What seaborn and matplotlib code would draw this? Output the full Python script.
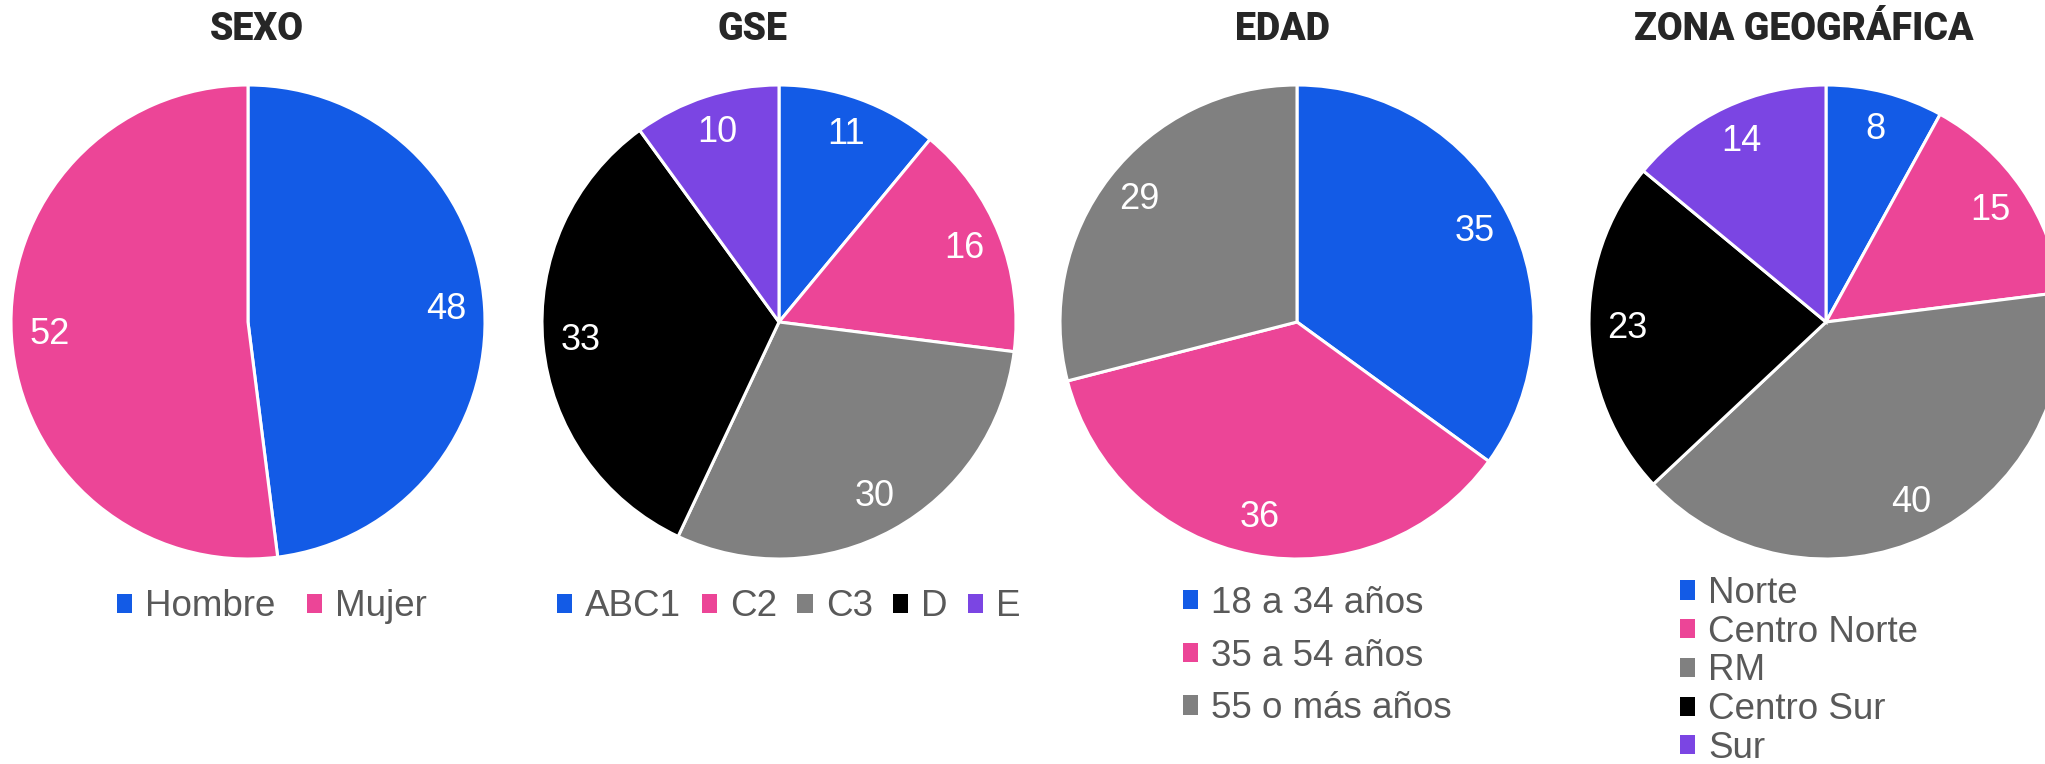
import seaborn as sns
import matplotlib.pyplot as plt
import matplotlib.patches as mpatches

# data
sexo_labels = ["Hombre", "Mujer"]
sexo_values = [48, 52]
gse_labels = ["ABC1", "C2", "C3", "D", "E"]
gse_values = [11, 16, 30, 33, 10]
edad_labels = ["18 a 34 años", "35 a 54 años", "55 o más años"]
edad_values = [35, 36, 29]
zona_labels = ["Norte", "Centro Norte", "RM", "Centro Sur", "Sur"]
zona_values = [8, 15, 40, 23, 14]

palette = sns.color_palette(["#135BE6", "#EC4597", "#808080", "#000000", "#7B45E3"])

sns.set_theme(style="white")
plt.rcParams["font.family"] = ["Liberation Sans", "DejaVu Sans"]

W, H = 2045, 764
fig = plt.figure(figsize=(W / 100, H / 100), dpi=100)
R = 237
CY = 322


def draw_pie(cx, values, labels, title, title_x, leg_x, leg_y, ncol, labelspacing, colspacing=0.85):
    ax = fig.add_axes([(cx - R) / W, 1 - (CY + R) / H, 2 * R / W, 2 * R / H])
    total = sum(values)
    cols = palette[:len(values)]
    wedges, _, autotexts = ax.pie(
        values, colors=cols, startangle=90, counterclock=False,
        autopct=lambda p: f"{p * total / 100:.0f}", pctdistance=0.84,
        wedgeprops=dict(edgecolor="white", linewidth=2.2),
        textprops=dict(color="white", fontsize=26))
    for w in wedges:
        w.set_clip_on(False)
    ax.set_xlim(-1, 1)
    ax.set_ylim(-1, 1)
    ax.set_aspect("equal")
    ax.axis("off")

    fig.text(title_x / W, 1 - 29 / H, title, ha="center", va="center",
             fontsize=27, fontweight="black", family=["Roboto", "DejaVu Sans"])

    handles = [mpatches.Patch(facecolor=c, edgecolor="none") for c in cols]
    ax.legend(handles, labels, loc="center left",
              bbox_to_anchor=(leg_x / W, 1 - leg_y / H), bbox_transform=fig.transFigure,
              ncol=ncol, frameon=False, borderpad=0, borderaxespad=0,
              handlelength=0.42, handleheight=0.42, handletextpad=0.35,
              columnspacing=colspacing, labelspacing=labelspacing,
              prop=dict(size=26.5), labelcolor="#595959")


draw_pie(248, sexo_values, sexo_labels, "SEXO", 257, 117, 607, 2, 0.3)
draw_pie(779, gse_values, gse_labels, "GSE", 752, 557, 607, 5, 0.3, colspacing=0.55)
draw_pie(1297, edad_values, edad_labels, "EDAD", 1282, 1183, 656, 1, 0.48)
draw_pie(1826, zona_values, zona_labels, "ZONA GEOGRÁFICA", 1804, 1680, 671, 1, 0.1)

plt.savefig("out.png", dpi=100)
